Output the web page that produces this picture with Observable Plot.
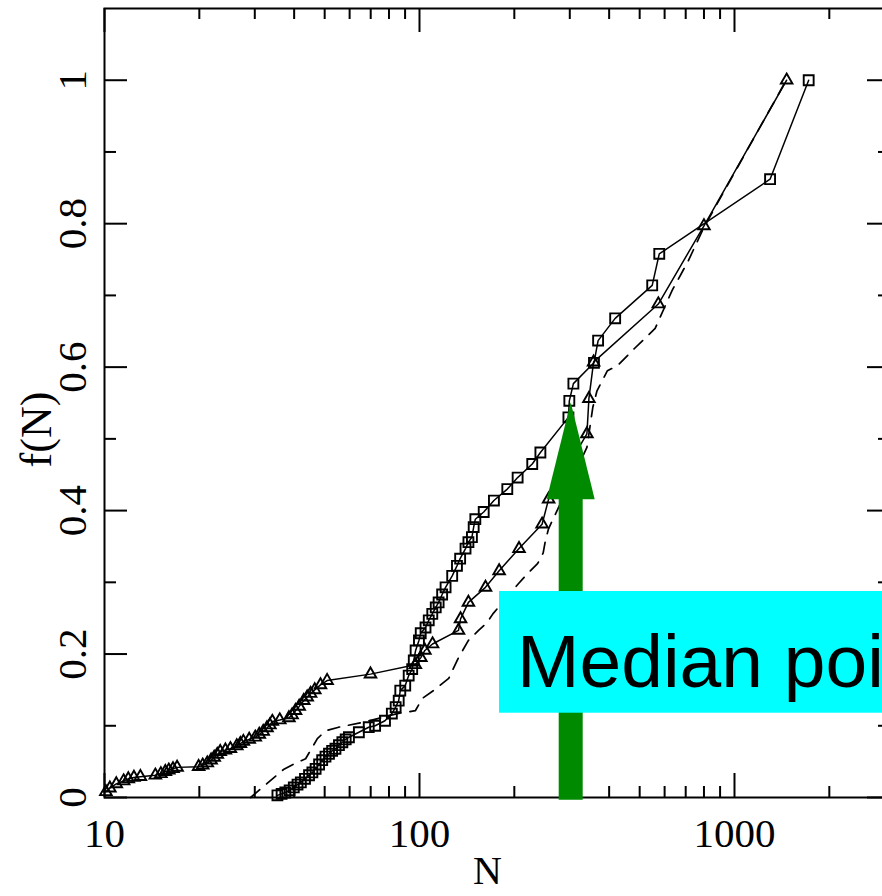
<!DOCTYPE html>
<html><head><meta charset="utf-8">
<script src="https://cdn.jsdelivr.net/npm/d3@7"></script>
<script src="https://cdn.jsdelivr.net/npm/@observablehq/plot@0.6"></script>
<style>html,body{margin:0;padding:0;background:#fff;overflow:hidden;width:882px;height:896px}</style>
</head><body><div id="chart"></div>
<script>
// Triangle series (solid line, open triangles)
const triangleN = [10.1,10.4,10.9,11.5,11.9,12.4,13.0,14.5,15.1,15.6,16.0,16.5,17.0,19.9,20.5,21.2,21.8,22.3,22.8,23.3,24.2,25.1,26.3,27.0,27.6,28.8,30.1,31.0,31.9,32.8,33.5,34.1,36.0,38.5,39.4,40.4,41.5,42.9,44.0,45.1,46.5,48.5,50.9,69.9,97,101,104,110,133,135,143,162,179,207,245,257,340,345,357,573,800,1464];
const triangleF = [0.008,0.013,0.019,0.023,0.026,0.028,0.029,0.031,0.033,0.036,0.038,0.040,0.042,0.043,0.045,0.048,0.052,0.056,0.060,0.064,0.066,0.068,0.072,0.075,0.078,0.081,0.084,0.088,0.092,0.097,0.101,0.106,0.108,0.111,0.115,0.121,0.127,0.135,0.140,0.145,0.150,0.157,0.163,0.172,0.185,0.195,0.205,0.214,0.233,0.249,0.272,0.293,0.316,0.347,0.381,0.416,0.507,0.556,0.607,0.688,0.797,1.0];
// Square series (solid line, open squares)
const squareN = [35.4,36.5,37.5,38.7,39.9,41.0,42.0,43.3,44.6,45.7,46.8,48.0,49.1,50.3,51.6,52.8,54.1,55.5,56.9,58.3,59.7,64.2,69.0,72.3,77.7,81.7,84,85.9,86.9,90.1,92.4,94.8,95.9,97.2,99.6,100.9,104.5,107,109.8,112.6,115,118,121,127,131.5,134.6,140,143,146.7,148.6,150.4,159.9,172.3,190,204.9,228,242,297,299,308,358,369,418,548,577,1297,1720];
const squareF = [0.003,0.005,0.007,0.010,0.014,0.018,0.021,0.026,0.031,0.035,0.040,0.046,0.052,0.057,0.061,0.065,0.068,0.073,0.077,0.081,0.084,0.091,0.098,0.100,0.107,0.117,0.126,0.135,0.149,0.156,0.170,0.179,0.191,0.205,0.219,0.229,0.237,0.247,0.256,0.265,0.272,0.283,0.293,0.309,0.323,0.333,0.347,0.356,0.363,0.377,0.388,0.398,0.414,0.430,0.446,0.465,0.481,0.530,0.553,0.577,0.606,0.637,0.668,0.714,0.758,0.862,1.0];
// Dashed series (no markers)
const dashedN = [29.1,32.9,37,40,43.5,47.4,50.3,55.4,66.5,85,97,102,110.7,123.8,133,143,154,164,171,206,220,237,247,251,257,340,355,366,395,425,484,560,634,713,800,1460];
const dashedF = [0,0.02,0.039,0.047,0.054,0.082,0.093,0.098,0.105,0.117,0.121,0.138,0.149,0.166,0.195,0.219,0.233,0.244,0.256,0.298,0.312,0.326,0.341,0.358,0.375,0.488,0.544,0.567,0.595,0.602,0.627,0.654,0.707,0.748,0.795,1.0];
// Axis ticks
const xMajor = [10, 100, 1000];
const xMinor = [20,30,40,50,60,70,80,90,200,300,400,500,600,700,800,900,2000,3000];
const yMajor = [0, 0.2, 0.4, 0.6, 0.8, 1];
const yMinor = [0.1, 0.3, 0.5, 0.7, 0.9];
const yLabels = ["0", "0.2", "0.4", "0.6", "0.8", "1"];
// Annotation
const medianN = 302, medianTipF = 0.551;

const tri = triangleN.map((n, i) => ({N: n, f: triangleF[i]}));
const sq = squareN.map((n, i) => ({N: n, f: squareF[i]}));
const da = dashedN.map((n, i) => ({N: n, f: dashedF[i]}));

const W = 882, H = 896, mL = 104, mR = -8, mT = 8, mB = 99;
const iW = W - mL - mR, iH = H - mT - mB;
const green = "#008a00";

const headShape = {draw(ctx, l) { ctx.moveTo(-24, 0); ctx.lineTo(24, 0); ctx.lineTo(0, -l); ctx.closePath(); }};

const chart = Plot.plot({
  width: W, height: H,
  marginLeft: mL, marginRight: mR, marginTop: mT, marginBottom: mB,
  style: {fontFamily: "Liberation Serif", background: "white", color: "black"},
  x: {type: "log", domain: [10, 3128], axis: null},
  y: {domain: [0, 1.1], axis: null},
  marks: [
    Plot.tickX(xMajor, {x: d => d, insetTop: iH - 24, strokeWidth: 2, stroke: "black"}),
    Plot.tickX(xMinor, {x: d => d, insetTop: iH - 11, strokeWidth: 2, stroke: "black"}),
    Plot.tickX(xMajor, {x: d => d, insetBottom: iH - 24, strokeWidth: 2, stroke: "black"}),
    Plot.tickX(xMinor, {x: d => d, insetBottom: iH - 11, strokeWidth: 2, stroke: "black"}),
    Plot.tickY(yMajor, {y: d => d, insetRight: iW - 23, strokeWidth: 2, stroke: "black"}),
    Plot.tickY(yMinor, {y: d => d, insetRight: iW - 12, strokeWidth: 2, stroke: "black"}),
    Plot.tickY(yMajor, {y: d => d, insetLeft: iW - 23, strokeWidth: 2, stroke: "black"}),
    Plot.tickY(yMinor, {y: d => d, insetLeft: iW - 12, strokeWidth: 2, stroke: "black"}),
    Plot.frame({stroke: "black", strokeWidth: 2}),
    Plot.text(xMajor, {x: d => d, frameAnchor: "bottom", dy: 36, text: d => String(d), fontSize: 41, textAnchor: "middle", lineAnchor: "middle", fill: "black"}),
    Plot.text(yMajor, {y: d => d, frameAnchor: "left", dx: -32, rotate: -90, text: (d, i) => yLabels[i], fontSize: 41, textAnchor: "middle", lineAnchor: "middle", fill: "black"}),
    Plot.text(["f(N)"], {y: 0.513, frameAnchor: "left", dx: -68, rotate: -90, text: d => d, fontSize: 44, textAnchor: "middle", lineAnchor: "middle", fill: "black"}),
    Plot.text(["N"], {frameAnchor: "bottom", dx: -10, dy: 74, text: d => d, fontSize: 40, textAnchor: "middle", lineAnchor: "middle", fill: "black"}),
    Plot.line(da, {x: "N", y: "f", stroke: "black", strokeWidth: 1.7, strokeDasharray: "12,9"}),
    Plot.line(tri, {x: "N", y: "f", stroke: "black", strokeWidth: 1.5}),
    Plot.line(sq, {x: "N", y: "f", stroke: "black", strokeWidth: 1.5}),
    Plot.dot(tri, {x: "N", y: "f", symbol: "triangle", r: 4.3, stroke: "black", strokeWidth: 1.9, fill: "none"}),
    Plot.dot(sq, {x: "N", y: "f", symbol: "square", r: 5.6, stroke: "black", strokeWidth: 1.9, fill: "none"}),
    Plot.ruleX([medianN], {x: d => d, y1: -0.004, y2: 0.42, stroke: green, strokeWidth: 24}),
    Plot.vector([medianN], {x: d => d, y: medianTipF, length: 97, anchor: "end", shape: headShape, fill: green, stroke: "none"}),
    Plot.rect(["box"], {x1: 179.5, x2: 3128, y1: 0.1175, y2: 0.2872, fill: "#00ffff"}),
    Plot.text(["Median point"], {x: 204, y: 0.1538, text: d => d, textAnchor: "start", lineAnchor: "bottom", fontSize: 75, fontFamily: "Liberation Sans", fill: "black"})
  ]
});
document.getElementById("chart").appendChild(chart);
</script>
</body></html>
